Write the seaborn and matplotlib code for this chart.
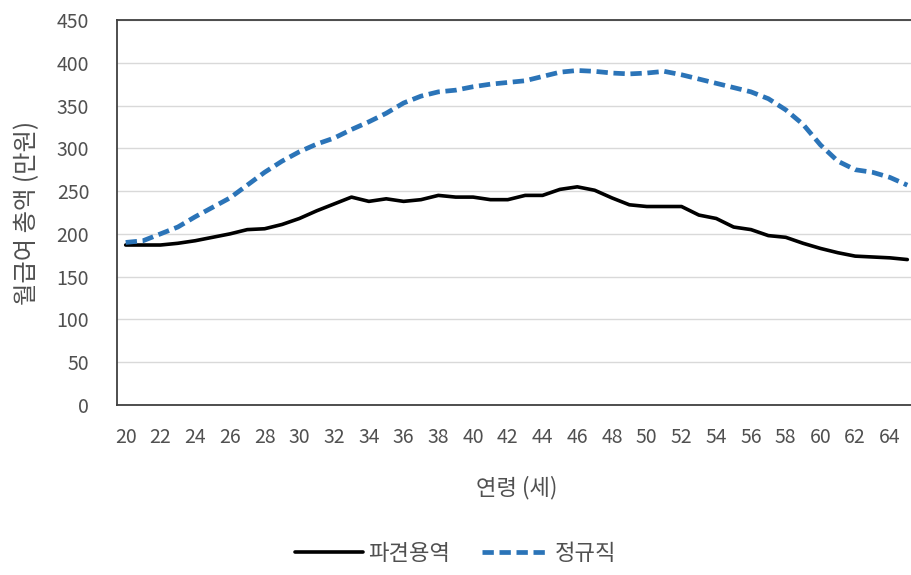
import matplotlib
matplotlib.use("Agg")
import matplotlib.pyplot as plt
import seaborn as sns
import pandas as pd

ages = list(range(20, 66))
dispatch = [187, 187, 187, 189, 192, 196, 200, 205, 206, 211, 218, 227, 235, 243, 238, 241,
            238, 240, 245, 243, 243, 240, 240, 245, 245, 252, 255, 251, 242, 234, 232, 232,
            232, 222, 218, 208, 205, 198, 196, 189, 183, 178, 174, 173, 172, 170]
regular = [190, 192, 200, 208, 220, 231, 242, 257, 272, 285, 296, 305, 312, 322, 331, 341,
           353, 361, 366, 368, 372, 375, 377, 379, 384, 389, 391, 390, 388, 387, 388, 390,
           386, 381, 376, 371, 366, 358, 345, 328, 304, 285, 275, 272, 266, 257]
series_names = ["파견용역", "정규직"]
y_ticks = [0, 50, 100, 150, 200, 250, 300, 350, 400, 450]
x_ticks = list(range(20, 65, 2))

sns.set_theme(style="white")
plt.rcParams['font.family'] = ['Noto Sans CJK KR', 'DejaVu Sans']

W, H = 911, 575
fig = plt.figure(figsize=(W / 100, H / 100), dpi=100)
left, right, top, bottom = 117, 916, 20, 405
ax = fig.add_axes([left / W, 1 - bottom / H, (right - left) / W, (bottom - top) / H])

df = pd.DataFrame({"age": ages + ages,
                   "value": dispatch + regular,
                   "series": [series_names[0]] * len(ages) + [series_names[1]] * len(ages)})

sns.lineplot(data=df[df.series == series_names[0]], x="age", y="value", ax=ax,
             color="black", linewidth=2.6, label=series_names[0])
sns.lineplot(data=df[df.series == series_names[1]], x="age", y="value", ax=ax,
             color="#2B74B8", linewidth=3.4, linestyle=(0, (2.4, 1.2)), label=series_names[1])

txt = "#505050"
ax.set_xlim(19.5, 65.5)
ax.set_ylim(0, 450)
ax.set_yticks(y_ticks)
ax.set_xticks(x_ticks)
ax.set_xticklabels([str(x) for x in x_ticks])
ax.grid(axis="y", color="#D9D9D9", linewidth=1.0)
ax.set_axisbelow(True)
for s in ax.spines.values():
    s.set_color("#404040")
    s.set_linewidth(1.3)
ax.tick_params(axis="both", length=0, labelsize=14, colors=txt)
ax.tick_params(axis="x", pad=16)
ax.tick_params(axis="y", pad=20)
ax.set_xlabel("연령 (세)", fontsize=16, color=txt, labelpad=20)
ax.set_ylabel("월급여 총액 (만원)", fontsize=17.5, color=txt, labelpad=12)

ax.get_legend().remove()
handles, labels = ax.get_legend_handles_labels()
fig.legend(handles, labels, loc="center", bbox_to_anchor=(456 / W, 1 - 553 / H), ncol=2,
           frameon=False, fontsize=16, handlelength=3.05, columnspacing=1.45, handletextpad=0.22,
           labelcolor=txt)

fig.savefig("out.png", dpi=100)
